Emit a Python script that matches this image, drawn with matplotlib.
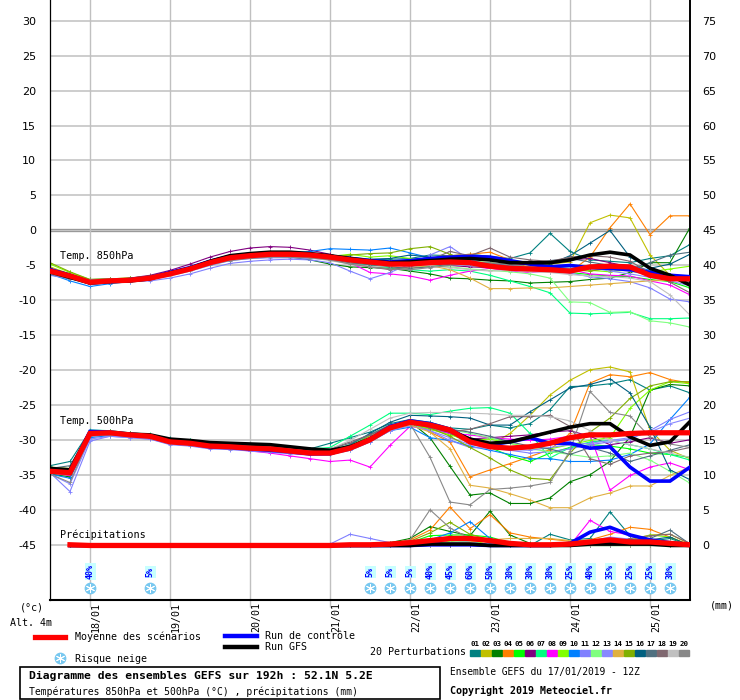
import matplotlib
matplotlib.use('Agg')
import matplotlib.pyplot as plt
from matplotlib.lines import Line2D
from matplotlib.patches import Rectangle
import matplotlib.transforms as mtransforms

MONO = 'DejaVu Sans Mono'

# 6-hourly steps from 17/01 12Z (index 0) to 25/01 12Z (index 32)
steps = list(range(33))
rain_steps = list(range(1, 33))
day_steps = [2, 6, 10, 14, 18, 22, 26, 30]
day_labels = ['18/01', '19/01', '20/01', '21/01', '22/01', '23/01', '24/01', '25/01']

member_colors = ['#008080', '#C0C000', '#008000', '#FF8000', '#00FF00', '#800080',
                 '#00FF80', '#FF00FF', '#80FF00', '#0080FF', '#8080FF', '#80FF80',
                 '#8888FF', '#E0B040', '#80B000', '#006080', '#507080', '#806870',
                 '#C0C0C0', '#888888']
member_names = ['01', '02', '03', '04', '05', '06', '07', '08', '09', '10',
                '11', '12', '13', '14', '15', '16', '17', '18', '19', '20']

# 850 hPa temperature (degC)
t850_mean = [-5.8, -6.5, -7.4, -7.2, -7.1, -6.8, -6.2, -5.5, -4.6, -3.9, -3.6,
             -3.4, -3.4, -3.5, -3.8, -4.2, -4.5, -4.8, -4.8, -4.6, -4.5, -4.6,
             -5.1, -5.4, -5.5, -5.6, -5.8, -5.2, -5.1, -5.2, -6.4, -6.9, -6.9]
t850_ctrl = [-5.6, -6.4, -7.5, -7.3, -7.0, -6.7, -6.0, -5.3, -4.4, -3.7, -3.4,
             -3.2, -3.3, -3.4, -3.7, -4.0, -4.3, -4.5, -4.3, -4.0, -3.8, -3.7,
             -3.8, -4.3, -4.8, -5.2, -5.0, -5.3, -5.4, -5.6, -6.0, -6.4, -6.6]
t850_gfs = [-5.9, -6.7, -7.5, -7.3, -7.2, -6.9, -6.1, -5.4, -4.4, -3.6, -3.3,
            -3.1, -3.1, -3.3, -3.6, -4.0, -4.4, -4.6, -4.5, -4.3, -4.1, -4.0,
            -4.2, -4.6, -4.6, -4.6, -4.2, -3.5, -3.1, -3.5, -5.4, -6.4, -7.8]
t850_members = [
    [-5.6, -6.3, -7.2, -7.3, -7.2, -6.9, -6.3, -5.6, -4.7, -4.0, -3.7,
     -3.5, -3.6, -3.7, -3.9, -4.0, -4.2, -4.1, -4.0, -3.5, -3.6, -3.4,
     -3.7, -4.0, -3.2, -0.4, -3.0, -4.2, -4.4, -4.6, -4.0, -3.6, -2.0],
    [-5.2, -6.2, -7.1, -7.0, -6.9, -6.6, -6.0, -5.3, -4.4, -3.7, -3.4,
     -3.3, -3.4, -3.6, -4.0, -4.4, -4.8, -5.0, -4.9, -4.4, -4.7, -5.0,
     -5.4, -5.6, -5.0, -4.8, -4.5, 1.1, 2.2, 1.8, -3.5, -6.4, -7.6],
    [-6.3, -6.9, -7.4, -7.3, -7.2, -7.0, -6.4, -5.7, -4.8, -4.1, -3.8,
     -3.7, -3.8, -4.2, -4.8, -5.2, -5.3, -5.4, -5.8, -6.2, -6.8, -6.9,
     -7.1, -7.2, -7.5, -7.4, -7.3, -7.0, -6.8, -6.0, -4.6, -4.6, 0.4],
    [-5.7, -6.5, -7.3, -7.1, -7.0, -6.7, -6.1, -5.4, -4.5, -3.8, -3.5,
     -3.3, -3.3, -3.5, -3.9, -4.3, -4.6, -4.6, -4.2, -3.9, -3.6, -3.4,
     -3.1, -4.2, -5.4, -5.8, -5.9, -3.8, 0.4, 3.8, -0.6, 2.1, 2.1],
    [-6.0, -6.7, -7.3, -7.2, -7.0, -6.8, -6.2, -5.4, -4.5, -3.8, -3.5,
     -3.3, -3.3, -3.6, -3.6, -4.0, -4.2, -4.6, -5.0, -5.1, -4.8, -4.6,
     -4.9, -5.2, -5.6, -5.9, -6.0, -6.3, -6.5, -6.6, -7.0, -7.3, -8.2],
    [-5.4, -6.2, -7.1, -7.0, -6.8, -6.4, -5.7, -4.8, -3.8, -3.0, -2.5,
     -2.3, -2.4, -2.8, -3.4, -4.2, -4.8, -4.5, -4.4, -4.6, -5.0, -5.2,
     -5.3, -5.0, -4.8, -4.4, -4.2, -4.0, -4.6, -5.2, -5.8, -6.5, -7.4],
    [-6.1, -6.8, -7.5, -7.4, -7.2, -6.9, -6.3, -5.6, -4.7, -4.0, -3.7,
     -3.5, -3.5, -3.7, -4.1, -4.6, -4.9, -5.3, -5.6, -5.8, -5.6, -5.8,
     -6.4, -7.2, -8.0, -8.9, -11.8, -11.9, -11.8, -11.7, -12.6, -12.6, -12.5],
    [-5.9, -6.6, -7.4, -7.2, -7.1, -6.8, -6.2, -5.5, -4.6, -3.9, -3.6,
     -3.4, -3.4, -3.6, -4.2, -4.6, -6.0, -6.2, -6.5, -7.1, -6.4, -5.8,
     -5.4, -5.8, -6.0, -5.8, -5.6, -6.2, -6.4, -6.5, -7.2, -7.8, -9.2],
    [-4.8, -6.0, -7.0, -6.9, -6.8, -6.6, -6.0, -5.3, -4.4, -3.7, -3.4,
     -3.2, -3.3, -3.5, -3.7, -3.4, -3.8, -3.6, -4.0, -4.3, -4.6, -4.4,
     -4.6, -5.0, -5.2, -5.3, -5.4, -5.7, -5.9, -5.6, -5.9, -5.5, -5.1],
    [-6.2, -7.2, -8.0, -7.6, -7.3, -6.9, -6.2, -5.3, -4.3, -3.6, -3.3,
     -3.1, -3.2, -3.0, -2.6, -2.7, -2.8, -2.5, -3.2, -3.9, -4.2, -4.4,
     -4.7, -5.0, -5.2, -5.4, -5.5, -5.4, -5.2, -5.0, -5.7, -6.3, -6.8],
    [-6.4, -6.9, -7.3, -7.2, -7.3, -7.2, -6.8, -6.2, -5.4, -4.7, -4.4,
     -4.2, -4.1, -4.2, -4.6, -5.8, -6.9, -6.0, -4.8, -3.5, -2.3, -4.2,
     -5.0, -5.4, -5.6, -5.9, -6.1, -6.6, -6.9, -7.3, -8.2, -9.8, -10.2],
    [-5.9, -6.6, -7.5, -7.3, -7.1, -6.8, -6.2, -5.5, -4.6, -3.9, -3.6,
     -3.4, -3.4, -3.6, -4.0, -4.6, -4.4, -4.9, -5.0, -5.1, -5.2, -5.5,
     -5.7, -5.9, -6.2, -6.8, -10.2, -10.3, -11.7, -11.6, -12.9, -13.2, -13.8],
    [-6.0, -6.7, -7.6, -7.4, -7.2, -6.9, -6.4, -5.8, -5.0, -4.3, -4.0,
     -3.9, -3.9, -4.0, -4.1, -4.4, -4.7, -4.9, -5.1, -4.9, -4.8, -5.0,
     -5.2, -5.3, -5.4, -5.6, -5.5, -5.3, -5.8, -6.2, -6.7, -7.2, -7.9],
    [-5.6, -6.4, -7.3, -7.2, -7.1, -6.8, -6.3, -5.6, -4.7, -4.0, -3.7,
     -3.5, -3.5, -3.7, -4.0, -4.4, -4.8, -5.2, -5.4, -5.0, -5.6, -6.8,
     -8.3, -8.3, -8.2, -8.2, -8.0, -7.8, -7.6, -7.4, -7.2, -7.1, -7.1],
    [-4.6, -5.9, -7.0, -6.9, -6.8, -6.5, -5.9, -5.2, -4.3, -3.6, -3.3,
     -3.1, -3.2, -3.4, -3.8, -3.5, -3.3, -3.2, -2.6, -2.3, -3.4, -4.6,
     -5.0, -5.4, -5.7, -5.5, -5.6, -5.8, -5.4, -5.6, -6.4, -6.6, -7.1],
    [-5.8, -6.5, -7.3, -7.2, -7.0, -6.7, -6.1, -5.4, -4.5, -3.8, -3.5,
     -3.3, -3.3, -3.4, -3.7, -3.8, -4.1, -4.0, -3.5, -3.8, -4.0, -4.1,
     -4.0, -4.3, -4.6, -4.8, -3.6, -1.8, 0.0, -3.8, -5.4, -4.8, -3.4],
    [-6.2, -6.8, -7.4, -7.3, -7.1, -6.9, -6.3, -5.6, -4.8, -4.1, -3.8,
     -3.6, -3.6, -3.8, -4.2, -4.6, -4.9, -5.2, -5.4, -5.2, -4.8, -4.6,
     -4.7, -4.8, -4.6, -4.3, -4.0, -4.5, -5.0, -5.5, -4.6, -3.5, -3.1],
    [-6.0, -6.8, -7.5, -7.4, -7.2, -6.9, -6.4, -5.6, -4.7, -4.0, -3.7,
     -3.6, -3.6, -3.8, -4.2, -4.7, -5.2, -5.6, -5.2, -4.2, -3.0, -3.6,
     -2.5, -3.8, -4.2, -4.4, -3.8, -3.6, -3.8, -4.4, -6.0, -7.4, -8.9],
    [-5.9, -6.6, -7.4, -7.3, -7.2, -7.0, -6.5, -5.8, -4.9, -4.2, -3.9,
     -3.7, -3.7, -3.9, -4.3, -4.8, -5.2, -5.0, -4.9, -5.0, -5.3, -5.6,
     -5.8, -5.7, -5.9, -6.0, -6.3, -6.5, -6.6, -6.8, -7.3, -9.2, -12.1],
    [-6.2, -6.9, -7.0, -6.9, -6.9, -6.7, -6.2, -5.6, -4.9, -4.3, -4.0,
     -3.8, -3.8, -3.9, -4.2, -4.8, -5.2, -5.5, -5.6, -5.3, -5.0, -4.7,
     -4.6, -4.9, -5.2, -5.1, -5.0, -5.4, -5.6, -5.8, -6.4, -6.7, -7.4],
]

# 500 hPa temperature (degC)
t500_mean = [-34.4, -34.6, -29.0, -28.9, -29.2, -29.4, -30.2, -30.4, -30.8, -30.9, -31.1,
             -31.2, -31.5, -31.8, -31.8, -31.1, -29.9, -28.2, -27.4, -27.8, -28.5, -30.2,
             -30.9, -31.1, -30.9, -30.4, -29.6, -29.2, -29.2, -29.0, -28.9, -28.9, -28.9]
t500_ctrl = [-34.2, -34.4, -28.7, -28.8, -29.1, -29.3, -30.1, -30.4, -30.9, -31.0, -31.2,
             -31.4, -31.6, -31.9, -31.9, -31.0, -29.8, -28.0, -27.2, -27.6, -28.4, -29.9,
             -30.6, -30.2, -29.6, -30.4, -30.4, -31.1, -30.9, -33.8, -35.8, -35.8, -33.8]
t500_gfs = [-34.0, -34.2, -28.9, -28.9, -29.1, -29.2, -29.8, -30.0, -30.3, -30.4, -30.5,
            -30.6, -30.9, -31.2, -31.4, -30.9, -29.8, -28.2, -27.4, -27.8, -28.6, -29.8,
            -30.4, -30.2, -29.5, -28.8, -28.1, -27.6, -27.6, -29.5, -30.7, -30.2, -27.3]
t500_members = [
    [-33.6, -33.0, -28.6, -28.7, -29.0, -29.2, -29.7, -30.0, -30.4, -30.5, -30.7,
     -30.8, -31.0, -31.2, -30.4, -29.6, -28.8, -27.6, -27.0, -27.4, -28.2, -28.4,
     -27.8, -28.2, -27.6, -25.6, -22.3, -22.2, -21.9, -21.3, -22.8, -22.2, -23.2],
    [-34.6, -35.0, -29.2, -29.0, -29.3, -29.5, -30.3, -30.6, -31.0, -31.1, -31.3,
     -31.4, -31.6, -31.8, -31.6, -30.8, -29.4, -28.2, -27.6, -28.2, -28.8, -29.6,
     -30.6, -29.0, -26.4, -23.5, -21.4, -19.9, -19.5, -20.2, -28.5, -31.4, -32.6],
    [-34.8, -35.2, -29.0, -28.9, -29.2, -29.4, -30.2, -30.5, -31.0, -31.1, -31.3,
     -31.4, -31.6, -31.8, -31.7, -30.8, -29.2, -27.8, -27.3, -29.6, -33.7, -37.8,
     -37.5, -39.0, -39.0, -38.2, -35.9, -34.9, -33.0, -29.5, -22.8, -22.0, -22.2],
    [-34.2, -34.4, -28.8, -28.8, -29.1, -29.3, -30.0, -30.3, -30.7, -30.8, -31.0,
     -31.1, -31.3, -31.6, -31.6, -30.9, -29.8, -28.0, -27.0, -28.8, -30.2, -35.2,
     -34.2, -33.3, -32.3, -31.3, -29.0, -21.8, -20.6, -20.9, -20.3, -21.3, -21.8],
    [-34.4, -34.8, -29.1, -29.0, -29.3, -29.5, -30.3, -30.5, -30.9, -31.0, -31.2,
     -31.3, -31.5, -31.8, -31.9, -31.2, -30.0, -28.4, -27.6, -28.4, -29.0, -30.4,
     -31.0, -32.2, -33.0, -31.8, -31.0, -30.6, -30.8, -31.2, -31.8, -32.0, -32.4],
    [-34.5, -34.6, -28.8, -28.7, -29.0, -29.3, -30.0, -30.2, -30.6, -30.6, -30.8,
     -30.9, -31.1, -31.3, -31.4, -30.9, -29.6, -28.3, -27.5, -28.0, -29.0, -29.8,
     -29.6, -29.4, -29.2, -28.8, -28.6, -29.4, -30.6, -30.2, -29.6, -30.4, -29.9],
    [-34.0, -34.2, -28.5, -28.6, -28.9, -29.1, -29.8, -30.0, -30.4, -30.5, -30.7,
     -30.8, -31.0, -31.2, -31.0, -29.4, -27.8, -26.1, -26.1, -26.3, -25.8, -25.4,
     -25.3, -26.1, -29.0, -32.5, -31.0, -30.2, -30.0, -30.6, -31.2, -32.0, -32.8],
    [-34.6, -35.0, -29.4, -29.2, -29.4, -29.6, -30.4, -30.6, -31.0, -31.2, -31.5,
     -31.8, -32.2, -32.6, -33.0, -32.8, -33.8, -30.7, -28.0, -28.4, -29.0, -29.2,
     -29.6, -29.8, -30.0, -29.8, -29.4, -29.2, -37.1, -35.0, -33.8, -33.2, -34.2],
    [-34.3, -34.6, -29.0, -28.9, -29.2, -29.4, -30.1, -30.3, -30.7, -30.8, -31.0,
     -31.1, -31.3, -31.6, -31.6, -31.0, -29.8, -28.3, -27.6, -28.4, -29.2, -30.0,
     -29.8, -30.4, -31.0, -31.2, -30.6, -30.0, -29.6, -25.4, -22.8, -21.6, -21.9],
    [-34.8, -35.4, -29.6, -29.3, -29.5, -29.7, -30.5, -30.7, -31.1, -31.2, -31.4,
     -31.5, -31.7, -31.9, -32.0, -31.4, -30.2, -28.6, -28.1, -29.6, -30.0, -30.8,
     -31.4, -32.0, -32.6, -32.6, -33.0, -33.0, -32.8, -32.0, -30.5, -27.0, -23.8],
    [-34.6, -37.3, -30.1, -29.4, -29.6, -29.8, -30.6, -30.8, -31.2, -31.3, -31.5,
     -31.7, -31.9, -32.1, -32.0, -31.4, -30.2, -28.6, -27.8, -28.6, -30.0, -31.0,
     -31.1, -31.4, -31.8, -31.6, -31.2, -30.6, -30.2, -29.8, -28.6, -27.0, -25.9],
    [-34.0, -34.4, -28.7, -28.8, -29.1, -29.3, -30.0, -30.2, -30.6, -30.7, -30.9,
     -31.0, -31.2, -31.5, -31.4, -30.6, -29.2, -27.8, -27.2, -27.6, -28.4, -29.0,
     -29.6, -30.4, -31.2, -31.6, -32.0, -32.4, -32.2, -31.8, -32.8, -34.4, -36.1],
    [-34.8, -36.2, -29.8, -29.4, -29.6, -29.8, -30.5, -30.7, -31.1, -31.2, -31.4,
     -31.6, -31.8, -32.0, -31.9, -31.2, -30.0, -28.6, -27.9, -28.6, -29.6, -30.6,
     -31.0, -31.3, -31.4, -31.0, -30.6, -30.4, -30.0, -29.6, -28.8, -27.6, -26.8],
    [-34.4, -34.7, -29.0, -28.9, -29.2, -29.4, -30.3, -30.6, -31.0, -31.1, -31.3,
     -31.4, -31.6, -31.8, -31.8, -31.2, -30.0, -28.4, -27.8, -28.8, -31.2, -36.4,
     -36.8, -37.6, -38.5, -39.6, -39.6, -38.2, -37.5, -36.5, -36.5, -35.0, -33.8],
    [-33.8, -34.0, -28.6, -28.7, -29.0, -29.2, -29.9, -30.1, -30.5, -30.6, -30.8,
     -30.9, -31.1, -31.4, -31.4, -30.8, -29.6, -28.0, -27.4, -28.2, -29.4, -31.0,
     -32.5, -34.2, -35.4, -35.6, -31.8, -28.8, -26.8, -24.0, -22.2, -21.6, -21.6],
    [-34.2, -34.0, -28.8, -28.9, -29.1, -29.3, -30.0, -30.3, -30.7, -30.8, -31.0,
     -31.1, -31.4, -31.6, -31.6, -30.6, -29.0, -27.4, -26.4, -26.5, -26.6, -26.8,
     -27.8, -27.8, -25.9, -24.2, -22.5, -22.0, -21.2, -23.2, -28.1, -34.2, -35.6],
    [-34.0, -33.6, -28.7, -28.8, -29.1, -29.3, -29.9, -30.1, -30.5, -30.6, -30.8,
     -30.9, -31.1, -31.3, -31.2, -30.4, -29.2, -27.8, -27.3, -27.8, -28.4, -28.8,
     -29.4, -30.2, -30.8, -31.2, -32.0, -31.0, -31.8, -33.0, -32.2, -31.4, -30.6],
    [-34.5, -34.8, -29.0, -28.9, -29.2, -29.4, -30.1, -30.3, -30.7, -30.8, -31.0,
     -31.1, -31.3, -31.4, -31.2, -30.2, -29.2, -28.0, -27.4, -28.2, -28.8, -28.4,
     -27.6, -26.6, -26.6, -26.4, -28.0, -32.6, -33.4, -32.2, -31.8, -31.6, -31.0],
    [-34.2, -34.4, -28.8, -28.8, -29.1, -29.3, -30.0, -30.2, -30.6, -30.7, -30.9,
     -31.0, -31.2, -31.4, -31.2, -30.0, -28.4, -26.8, -26.1, -26.0, -26.0, -26.1,
     -26.2, -26.4, -26.4, -26.6, -27.2, -28.6, -30.0, -30.6, -31.2, -31.8, -32.4],
    [-34.8, -36.0, -29.4, -29.2, -29.4, -29.6, -30.4, -30.6, -31.0, -31.1, -31.3,
     -31.4, -31.6, -31.8, -31.7, -31.0, -29.6, -28.0, -27.6, -32.4, -38.8, -39.2,
     -37.0, -36.8, -36.5, -36.0, -31.5, -23.0, -26.0, -26.5, -29.5, -30.5, -31.0],
]

# 6-hourly precipitation (mm), from 17/01 18Z
rain_mean = [0.1, 0, 0, 0, 0, 0, 0, 0, 0, 0, 0, 0, 0, 0, 0.1, 0.1,
             0.2, 0.4, 0.7, 1.0, 1.0, 0.7, 0.3, 0.1, 0.1, 0.2, 0.5, 0.8, 0.5, 0.5, 0.3, 0.1]
rain_ctrl = [0, 0, 0, 0, 0, 0, 0, 0, 0, 0, 0, 0, 0, 0, 0, 0,
             0, 0, 0.1, 0.1, 0.1, 0, 0, 0, 0, 0.3, 1.9, 2.6, 1.5, 0.8, 0.4, 0.1]
rain_gfs = [0, 0, 0, 0, 0, 0, 0, 0, 0, 0, 0, 0, 0, 0, 0, 0,
            0, 0, 0.2, 0.2, 0.2, 0, 0, 0, 0, 0, 0.2, 0.2, 0.2, 0.2, 0, 0]
rain_members = [
    [0, 0, 0, 0, 0, 0, 0, 0, 0, 0, 0, 0, 0, 0, 0, 0, 0, 0, 0.5, 0.4, 0, 0, 0, 0, 1.6, 0.8, 1.0, 4.8, 1.4, 0.6, 1.0, 0],
    [0, 0, 0, 0, 0, 0, 0, 0, 0, 0, 0, 0, 0, 0, 0, 0, 0, 0, 0, 0.8, 0.6, 0, 0, 0, 0, 0, 0, 0, 0.8, 1.5, 1.6, 0.2],
    [0, 0, 0, 0, 0, 0, 0, 0, 0, 0, 0, 0, 0, 0, 0, 0, 0.4, 1.0, 2.7, 2.0, 1.4, 4.9, 1.5, 0.3, 0, 0, 0, 0, 0, 0, 0, 0],
    [0, 0, 0, 0, 0, 0, 0, 0, 0, 0, 0, 0, 0, 0, 0, 0, 0.3, 0.8, 2.2, 5.5, 2.4, 4.4, 1.8, 1.2, 0.9, 0.6, 0.8, 1.6, 2.6, 2.3, 1.2, 0],
    [0, 0, 0, 0, 0, 0, 0, 0, 0, 0, 0, 0, 0, 0, 0, 0, 0, 0.4, 1.4, 1.5, 1.5, 1.2, 0.4, 0, 0, 0, 0, 0, 0, 0, 0, 0],
    [0, 0, 0, 0, 0, 0, 0, 0, 0, 0, 0, 0, 0, 0, 0, 0, 0, 0, 0, 0.3, 0.5, 0, 0, 0, 0, 0, 0, 0.4, 0.6, 0, 0, 0],
    [0, 0, 0, 0, 0, 0, 0, 0, 0, 0, 0, 0, 0, 0, 0, 0, 0, 0, 0.6, 0.8, 1.0, 0.8, 0, 0, 0, 0, 0, 0, 0, 0, 0, 0],
    [0, 0, 0, 0, 0, 0, 0, 0, 0, 0, 0, 0, 0, 0, 0, 0, 0, 0, 0.3, 0.6, 0, 0, 0, 0, 0, 0, 3.6, 2.0, 1.5, 0.6, 0, 0],
    [0, 0, 0, 0, 0, 0, 0, 0, 0, 0, 0, 0, 0, 0, 0, 0, 0, 0, 0, 0.6, 0.9, 0, 0, 0, 0, 0, 0, 0, 0, 1.5, 1.2, 0],
    [0, 0, 0, 0, 0, 0, 0, 0, 0, 0, 0, 0, 0, 0, 0, 0, 0, 0, 0.8, 1.8, 3.4, 1.0, 0.3, 0, 0, 0, 0, 0, 0, 0, 0, 0],
    [0, 0, 0, 0, 0, 0, 0, 0, 0, 0, 0, 0, 0, 0.2, 1.6, 1.0, 0.4, 0.2, 0, 0, 0, 0, 0, 0, 0, 0, 0.6, 1.0, 0.9, 0, 0, 0],
    [0, 0, 0, 0, 0, 0, 0, 0, 0, 0, 0, 0, 0, 0, 0, 0, 0, 0, 0, 0.5, 0.6, 0, 0, 0, 0, 0, 0, 0, 0, 0, 0, 0],
    [0, 0, 0, 0, 0, 0, 0, 0, 0, 0, 0, 0, 0, 0, 0, 0, 0, 0, 0, 0.4, 0.5, 0, 0, 0, 0, 0, 0.6, 1.2, 0.9, 0, 0, 0],
    [0, 0, 0, 0, 0, 0, 0, 0, 0, 0, 0, 0, 0, 0, 0, 0, 0, 0, 0, 0, 0.5, 0.8, 1.0, 1.0, 1.0, 0.7, 0.4, 0, 0, 0, 0, 0],
    [0, 0, 0, 0, 0, 0, 0, 0, 0, 0, 0, 0, 0, 0, 0, 0, 0, 0.6, 1.8, 3.3, 1.6, 0.8, 0, 0, 0, 0, 0, 0, 0, 0, 0, 0],
    [0, 0, 0, 0, 0, 0, 0, 0, 0, 0, 0, 0, 0, 0, 0, 0, 0, 0, 0, 0, 0, 0, 0, 0, 0, 0, 0, 0.6, 0.8, 0.8, 1.2, 0],
    [0, 0, 0, 0, 0, 0, 0, 0, 0, 0, 0, 0, 0, 0, 0, 0, 0, 0, 0, 0, 0, 0, 0, 0, 0, 0, 0, 0, 0.6, 1.0, 2.2, 0.2],
    [0, 0, 0, 0, 0, 0, 0, 0, 0, 0, 0, 0, 0, 0, 0, 0, 0, 0, 0, 0, 0, 0, 0, 0, 0, 0, 0, 0, 1.0, 1.4, 1.6, 0.3],
    [0, 0, 0, 0, 0, 0, 0, 0, 0, 0, 0, 0, 0, 0, 0, 0, 0, 0, 0, 0.3, 0.4, 0, 0, 0, 0, 0, 0, 0, 0, 0, 0, 0],
    [0, 0, 0, 0, 0, 0, 0, 0, 0, 0, 0, 0, 0, 0, 0, 0, 0.2, 0.8, 5.1, 2.5, 1.0, 0.4, 0, 0, 0, 0, 0, 0, 0, 0, 0, 0],
]
RAIN_BASE = -45   # precipitation is drawn on the left scale from -45 upward

# snow risk
snow_steps = [2, 5, 16, 17, 18, 19, 20, 21, 22, 23, 24, 25, 26, 27, 28, 29, 30, 31]
snow_pct = [40, 5, 5, 5, 5, 40, 45, 60, 50, 30, 30, 30, 25, 40, 35, 25, 25, 30]

left_ticks = list(range(-45, 31, 5))


def fx(px):
    return px / 740.0


def fy(py):
    return 1 - py / 700.0


fig = plt.figure(figsize=(7.4, 7.0), dpi=100)
ax = fig.add_axes([fx(50), fy(600), fx(640), 600 / 700.0])
ax.set_xlim(0, 32)
ax.set_ylim(-52.79, 32.93)

# grid
for v in left_ticks:
    if v == 0:
        continue
    ax.axhline(v, color='#C0C0C0', lw=1.1, zorder=0)
ax.axhline(0, color='#999999', lw=2.4, zorder=0)
ax.axhline(0, color='#D8D8D8', lw=0.5, zorder=0)
for d in day_steps:
    ax.axvline(d, color='#C0C0C0', lw=1.0, zorder=0)

# perturbations
for k in range(20):
    c = member_colors[k]
    ax.plot(steps, t850_members[k], color=c, lw=0.8, marker='+', ms=3, mew=0.6, zorder=2)
    ax.plot(steps, t500_members[k], color=c, lw=0.8, marker='+', ms=3, mew=0.6, zorder=2)
    ax.plot(rain_steps, [RAIN_BASE + r for r in rain_members[k]], color=c, lw=0.8,
            marker='+', ms=3, mew=0.6, zorder=2)

# control, GFS and mean
for t850, t500, rr, col, w, z in [(t850_ctrl, t500_ctrl, rain_ctrl, '#0000FF', 2.6, 3),
                                   (t850_gfs, t500_gfs, rain_gfs, '#000000', 2.6, 3),
                                   (t850_mean, t500_mean, rain_mean, '#FF0000', 3.8, 4)]:
    ax.plot(steps, t850, color=col, lw=w, zorder=z, solid_joinstyle='miter')
    ax.plot(steps, t500, color=col, lw=w, zorder=z, solid_joinstyle='miter')
    ax.plot(rain_steps, [RAIN_BASE + r for r in rr], color=col, lw=w, zorder=z)

# snow risk icons
snow_y = -51.07
ax.plot(snow_steps, [snow_y] * len(snow_steps), 'o', ms=8.5, mfc='#78C8F0', mec='none',
        zorder=5, clip_on=False)
ax.plot(snow_steps, [snow_y] * len(snow_steps), marker=(6, 2, 0), ls='none', ms=6.5,
        mec='white', mew=0.7, zorder=6, clip_on=False)
for s, p in zip(snow_steps, snow_pct):
    ax.text(s, -48.75, '%d%%' % p, rotation=90, ha='center', va='center', color='#0000FF',
            fontsize=6, family=MONO, fontweight='bold', zorder=6,
            bbox=dict(boxstyle='square,pad=0.12', fc='#C8FFFF', ec='none'))

# panel labels
ax.text(0.5, -3.6, 'Temp. 850hPa', family=MONO, fontsize=7.3, va='center', ha='left')
ax.text(0.5, -27.2, 'Temp. 500hPa', family=MONO, fontsize=7.3, va='center', ha='left')
ax.text(0.5, -43.4, 'Précipitations', family=MONO, fontsize=7.3, va='center', ha='left')

# axes styling
for side in ['top']:
    ax.spines[side].set_visible(False)
ax.spines['left'].set_linewidth(0.9)
ax.spines['right'].set_linewidth(1.4)
ax.spines['bottom'].set_linewidth(1.5)
ax.set_yticks(left_ticks)
ax.set_yticklabels([str(v) for v in left_ticks], fontsize=8)
ax.tick_params(axis='y', length=0, pad=10)
ax.set_xticks(day_steps)
ax.set_xticklabels([])
ax.tick_params(axis='x', length=5, color='#C0C0C0', width=1.0)

sec = ax.secondary_yaxis('right', functions=(lambda v: v + 45, lambda v: v - 45))
sec.set_yticks(list(range(0, 76, 5)))
sec.tick_params(length=0, pad=9, labelsize=8)
sec.spines['right'].set_visible(False)

# date labels
offs = mtransforms.ScaledTranslation(0.06, -0.02, fig.dpi_scale_trans)
trans = mtransforms.blended_transform_factory(ax.transData, ax.transAxes) + offs
for d, lab in zip(day_steps, day_labels):
    ax.text(d, 0, lab, rotation=90, ha='center', va='top', transform=trans,
            family=MONO, fontsize=7.2)

# texts around the plot
fig.text(fx(20), fy(607), '(°c)', family=MONO, fontsize=7.2, va='center')
fig.text(fx(10), fy(623), 'Alt. 4m', family=MONO, fontsize=7.2, va='center')
fig.text(fx(710), fy(606), '(mm)', family=MONO, fontsize=7.2, va='center')

fig.add_artist(Line2D([fx(35), fx(65)], [fy(637), fy(637)], color='#FF0000', lw=3.8,
                      transform=fig.transFigure))
fig.text(fx(75), fy(637), 'Moyenne des scénarios', family=MONO, fontsize=7.2, va='center')
fig.add_artist(Line2D([fx(225), fx(257)], [fy(636), fy(636)], color='#0000FF', lw=3.2,
                      transform=fig.transFigure))
fig.text(fx(265), fy(636), 'Run de contrôle', family=MONO, fontsize=7.2, va='center')
fig.add_artist(Line2D([fx(225), fx(257)], [fy(647), fy(647)], color='#000000', lw=3.2,
                      transform=fig.transFigure))
fig.text(fx(265), fy(647), 'Run GFS', family=MONO, fontsize=7.2, va='center')
fig.add_artist(Line2D([fx(60)], [fy(658)], marker='o', ms=8.5, mfc='#78C8F0', mec='none',
                      transform=fig.transFigure))
fig.add_artist(Line2D([fx(60)], [fy(658)], marker=(6, 2, 0), ms=6.5, mec='white', mew=0.7,
                      ls='none', transform=fig.transFigure))
fig.text(fx(75), fy(659), 'Risque neige', family=MONO, fontsize=7.2, va='center')

fig.text(fx(370), fy(652), '20 Perturbations', family=MONO, fontsize=7.2, va='center')
for k in range(20):
    x0 = 470 + 11 * k
    fig.add_artist(Rectangle((fx(x0), fy(656)), 10 / 740.0, 6 / 700.0, color=member_colors[k],
                             transform=fig.transFigure))
    fig.text(fx(x0 + 5), fy(644), member_names[k], family=MONO, fontsize=5.3,
             fontweight='bold', ha='center', va='center')

fig.add_artist(Rectangle((fx(20), fy(699)), 420 / 740.0, 32 / 700.0, fill=False, ec='black',
                         lw=1.2, transform=fig.transFigure))
fig.text(fx(29), fy(676), 'Diagramme des ensembles GEFS sur 192h : 52.1N 5.2E', family=MONO,
         fontsize=8.2, fontweight='bold', va='center')
fig.text(fx(29), fy(692), 'Températures 850hPa et 500hPa (°C) , précipitations (mm)',
         family=MONO, fontsize=7.0, va='center')
fig.text(fx(450), fy(672), 'Ensemble GEFS du 17/01/2019 - 12Z', family=MONO, fontsize=6.9,
         va='center')
fig.text(fx(450), fy(691), 'Copyright 2019 Meteociel.fr', family=MONO, fontsize=7.2,
         fontweight='bold', va='center')

fig.savefig('out.png', dpi=100)
